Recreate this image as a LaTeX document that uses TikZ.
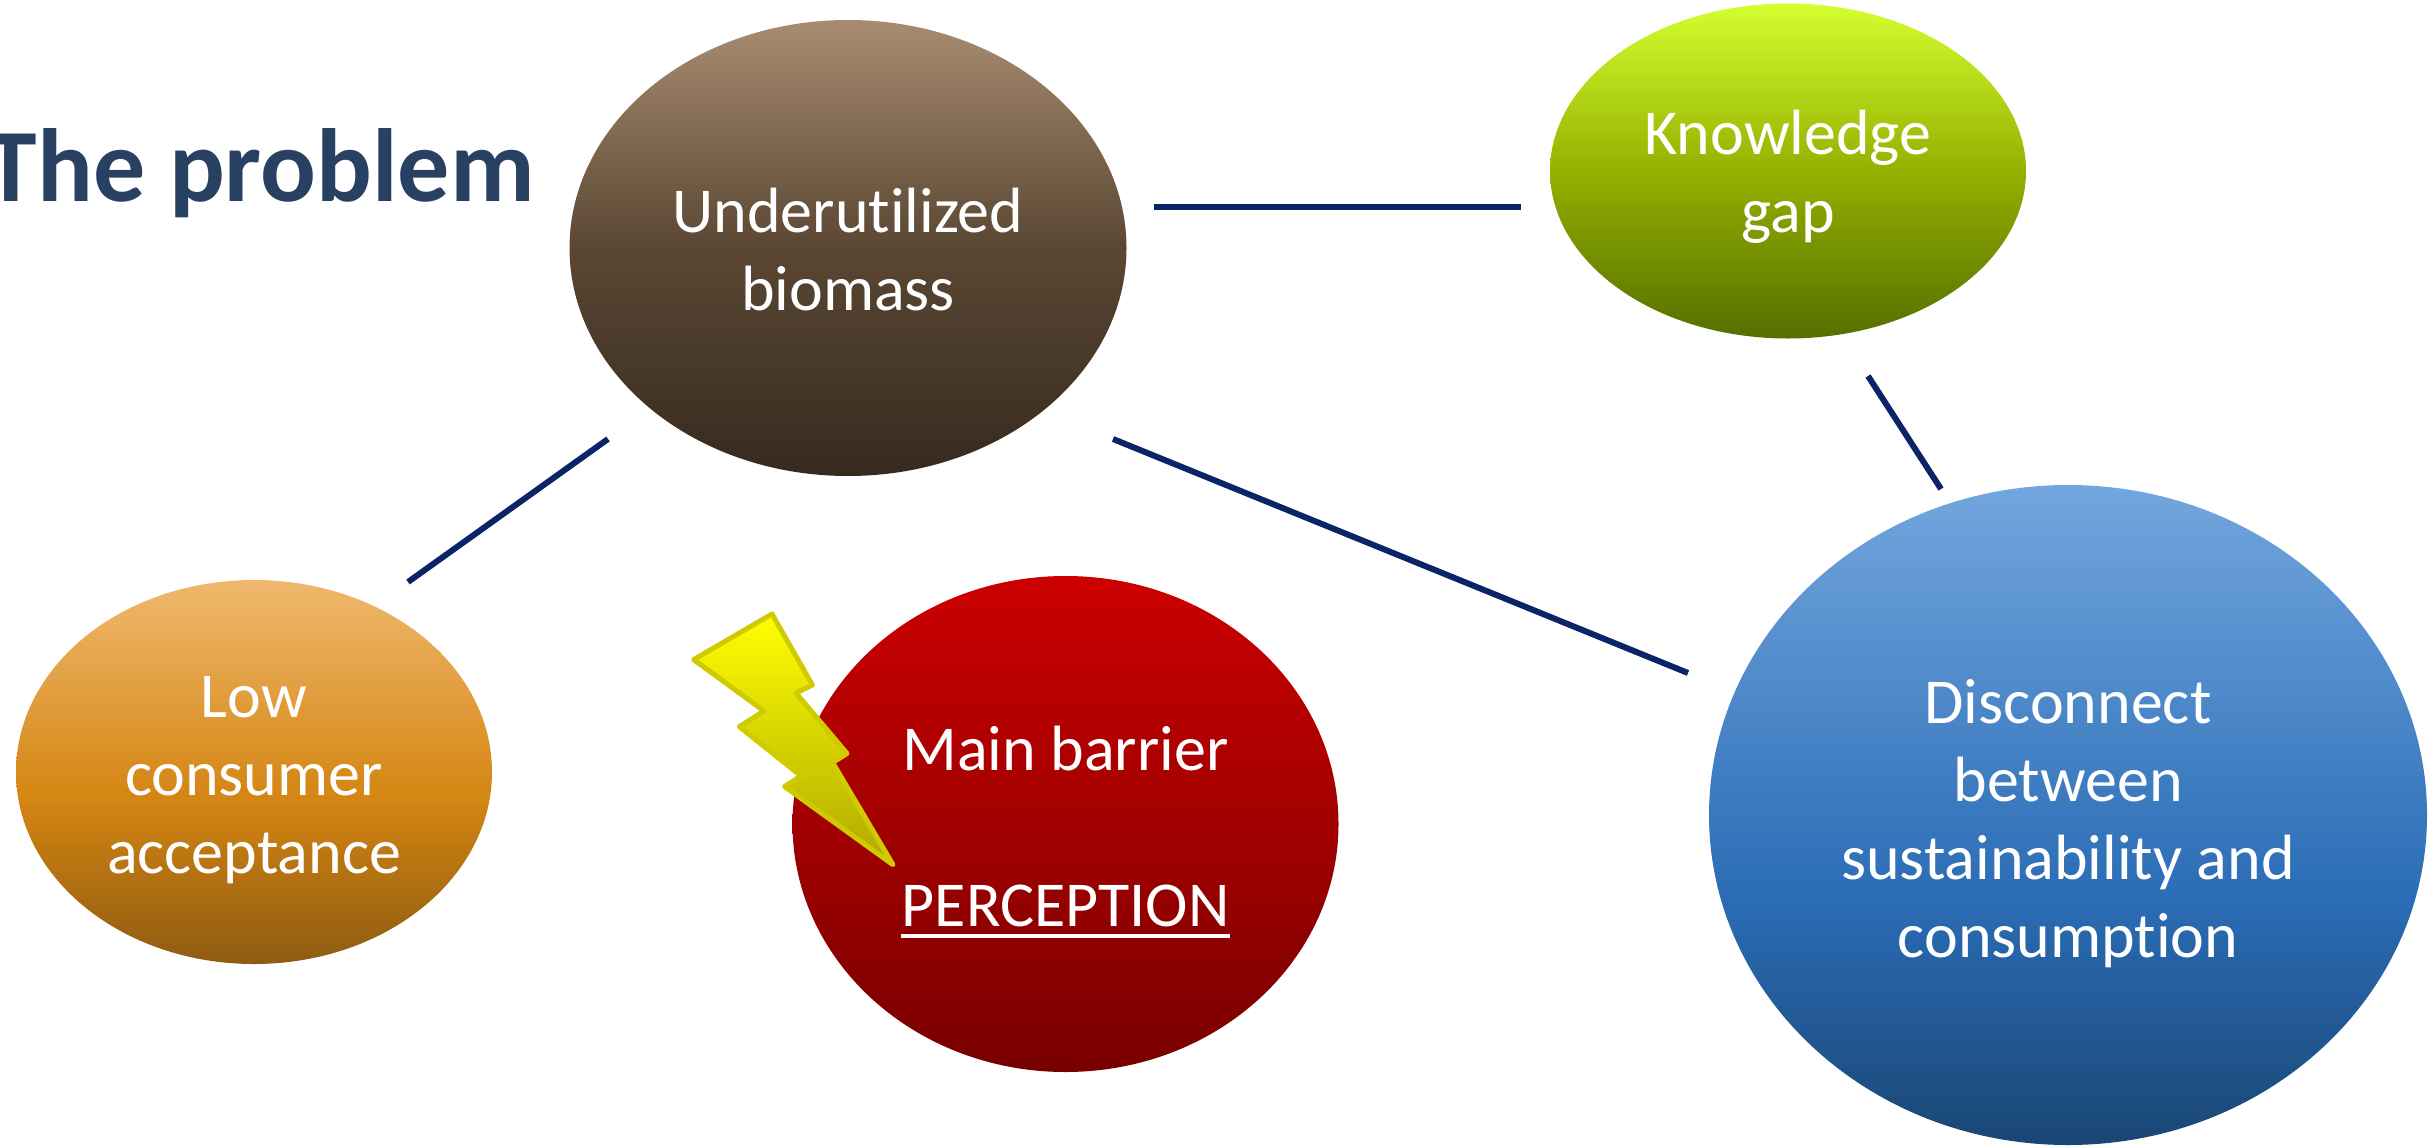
\documentclass[tikz,border=0pt]{standalone}
\usepackage{fontspec}
\setmainfont[Ligatures=NoCommon]{Carlito}
\usetikzlibrary{shapes.geometric}
\newcommand{\pcpline}[1]{\setbox0=\hbox{#1}\makebox[\wd0]{\rule[-11pt]{1.005\wd0}{4pt}}\hspace{-\wd0}\box0}
\newsavebox{\stackbox}
\newcommand{\dropped}[2]{\sbox{\stackbox}{\begin{tabular}{@{}c@{}}#2\end{tabular}}\raisebox{-#1}[\ht\stackbox][\dp\stackbox]{\usebox{\stackbox}}}
\definecolor{linkblue}{HTML}{0B2468}
\definecolor{titleblue}{HTML}{284162}
\definecolor{boltedge}{HTML}{CFCB00}
\definecolor{boltTop}{HTML}{FFFF00}
\definecolor{boltBot}{HTML}{B0A800}
\definecolor{brownT}{HTML}{A88C70}\definecolor{brownM}{HTML}{5A4733}\definecolor{brownB}{HTML}{362A1E}
\definecolor{greenT}{HTML}{D4FF2F}\definecolor{greenM}{HTML}{95B000}\definecolor{greenB}{HTML}{556F00}
\definecolor{orangeT}{HTML}{F0B86E}\definecolor{orangeM}{HTML}{D48512}\definecolor{orangeB}{HTML}{8E5B12}
\definecolor{redT}{HTML}{CC0000}\definecolor{redB}{HTML}{780000}
\definecolor{blueT}{HTML}{72A6DE}\definecolor{blueM}{HTML}{2A6CB5}\definecolor{blueB}{HTML}{1A4674}
\pgfdeclareverticalshading{brownball}{100bp}{color(0bp)=(brownB); color(25bp)=(brownB); color(50bp)=(brownM); color(75bp)=(brownT); color(100bp)=(brownT)}
\pgfdeclareverticalshading{greenball}{100bp}{color(0bp)=(greenB); color(25bp)=(greenB); color(50bp)=(greenM); color(75bp)=(greenT); color(100bp)=(greenT)}
\pgfdeclareverticalshading{orangeball}{100bp}{color(0bp)=(orangeB); color(25bp)=(orangeB); color(46.5bp)=(orangeM); color(75bp)=(orangeT); color(100bp)=(orangeT)}
\pgfdeclareverticalshading{redball}{100bp}{color(0bp)=(redB); color(25bp)=(redB); color(75bp)=(redT); color(100bp)=(redT)}
\pgfdeclareverticalshading{blueball}{100bp}{color(0bp)=(blueB); color(25bp)=(blueB); color(43.5bp)=(blueM); color(75bp)=(blueT); color(100bp)=(blueT)}
\tikzset{
  bubble/.style={ellipse,draw=none,inner sep=0pt,outer sep=0pt,text=white,align=center,
    font=\fontsize{64}{78}\selectfont},
  link/.style={draw=linkblue,line width=6pt},
  heading/.style={text=titleblue,inner sep=0pt,anchor=base east,font=\fontsize{104}{120}\selectfont\bfseries},
  bolt/.style={draw=boltedge,line width=5pt,line join=round,top color=boltTop,bottom color=boltBot}
}
\begin{document}
\begin{tikzpicture}[x=1pt,y=-1pt]
\useasboundingbox (0,0) rectangle (2433,1146);
\clip (0,0) rectangle (2433,1146);
\node[heading] (title) at (535,201) {The problem};
\node[bubble,minimum width=557pt,minimum height=456pt,shading=brownball] (under) at (848,248) {\dropped{8pt}{Underutilized\\biomass}};
\node[bubble,minimum width=476pt,minimum height=335pt,shading=greenball] (know) at (1788,171) {\dropped{7pt}{Knowledge\\gap}};
\node[bubble,minimum width=476pt,minimum height=384pt,shading=orangeball] (low) at (254,772) {\dropped{8pt}{Low\\consumer\\acceptance}};
\node[bubble,minimum width=546pt,minimum height=496pt,shading=redball] (barrier) at (1065.5,824) {\dropped{9pt}{Main barrier\\ \\\pcpline{PERCEPTION}}};
\node[bubble,minimum width=718pt,minimum height=660pt,shading=blueball] (gap) at (2068,815) {\dropped{10pt}{Disconnect\\between\\sustainability and\\consumption}};
\draw[link] ([xshift=306pt,yshift=41pt]under.center) -- ([xshift=-267pt,yshift=-36pt]know.center);
\draw[link] ([xshift=80pt,yshift=-205pt]know.center) -- ([xshift=-127pt,yshift=326pt]gap.center);
\draw[link] ([xshift=265pt,yshift=-191pt]under.center) -- ([xshift=-380pt,yshift=142pt]gap.center);
\draw[link] ([xshift=-240pt,yshift=-191pt]under.center) -- ([xshift=154pt,yshift=190pt]low.center);
\path[bolt] (772,614) -- (812.4,685) -- (796,693) -- (847,753.5) -- (832.6,762.5) -- (893,864.7) -- (784.6,786.5) -- (801,776) -- (739.4,726.7) -- (764,711) -- (693.7,659.6) -- cycle;
\end{tikzpicture}
\end{document}
